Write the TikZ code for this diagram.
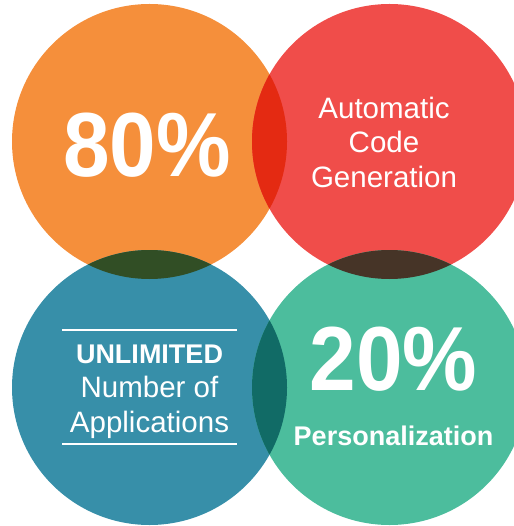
\documentclass[tikz,border=0pt]{standalone}
\usepackage{fontspec}
\setmainfont{Liberation Sans}
\definecolor{discorange}{RGB}{245,143,59}
\definecolor{discred}{RGB}{240,77,74}
\definecolor{discblue}{RGB}{55,143,169}
\definecolor{discgreen}{RGB}{76,189,157}
\definecolor{mixOR}{RGB}{228,42,18}
\definecolor{mixOB}{RGB}{49,78,37}
\definecolor{mixRG}{RGB}{70,52,39}
\definecolor{mixBG}{RGB}{17,107,102}
\newcommand{\narrowed}[1]{\scalebox{0.92}[1]{#1}}
\begin{document}
\begin{tikzpicture}[x=1pt,y=-1pt,
	bigtxt/.style={anchor=base, inner sep=0pt, text=white, font=\bfseries\fontsize{91}{91}\selectfont},
	boldtxt/.style={anchor=base, inner sep=0pt, text=white, font=\bfseries\fontsize{27}{27}\selectfont},
	plaintxt/.style={anchor=base, inner sep=0pt, text=white, font=\fontsize{29.5}{29.5}\selectfont}]
	\useasboundingbox (0,0) rectangle (513,526);
	\coordinate (O) at (149.5,141.5);
	\coordinate (R) at (389.5,141.5);
	\coordinate (B) at (149.5,387.5);
	\coordinate (G) at (389.5,387.5);
	\fill[discorange]	(O) circle (137.5);
	\fill[discred]		(R) circle (137.5);
	\fill[discblue]		(B) circle (137.5);
	\fill[discgreen]	(G) circle (137.5);
	\begin{scope}
		\clip (O) circle (137.5);
		\fill[mixOR] (R) circle (137.5);
		\fill[mixOB] (B) circle (137.5);
	\end{scope}
	\begin{scope}
		\clip (G) circle (137.5);
		\fill[mixRG] (R) circle (137.5);
		\fill[mixBG] (B) circle (137.5);
	\end{scope}
	\node (P80)  at (147,177)	[bigtxt]	{\narrowed{80\%}};
	\node (A1)   at (384,119)	[plaintxt]	{Automatic};
	\node (A2)   at (384,153)	[plaintxt]	{Code};
	\node (A3)   at (384,188)	[plaintxt]	{Generation};
	\node (U1)   at (149.5,363)	[boldtxt]	{UNLIMITED};
	\node (U2)   at (149.5,397)	[plaintxt]	{Number of};
	\node (U3)   at (149.5,432)	[plaintxt]	{Applications};
	\node (P20)  at (393.5,390)	[bigtxt]	{\narrowed{20\%}};
	\node (PERS) at (393.5,445)	[boldtxt]	{Personalization};
	\draw[white, line width=1.5] (62,330) -- (237,330);
	\draw[white, line width=1.5] (62,444) -- (237,444);
\end{tikzpicture}
\end{document}
